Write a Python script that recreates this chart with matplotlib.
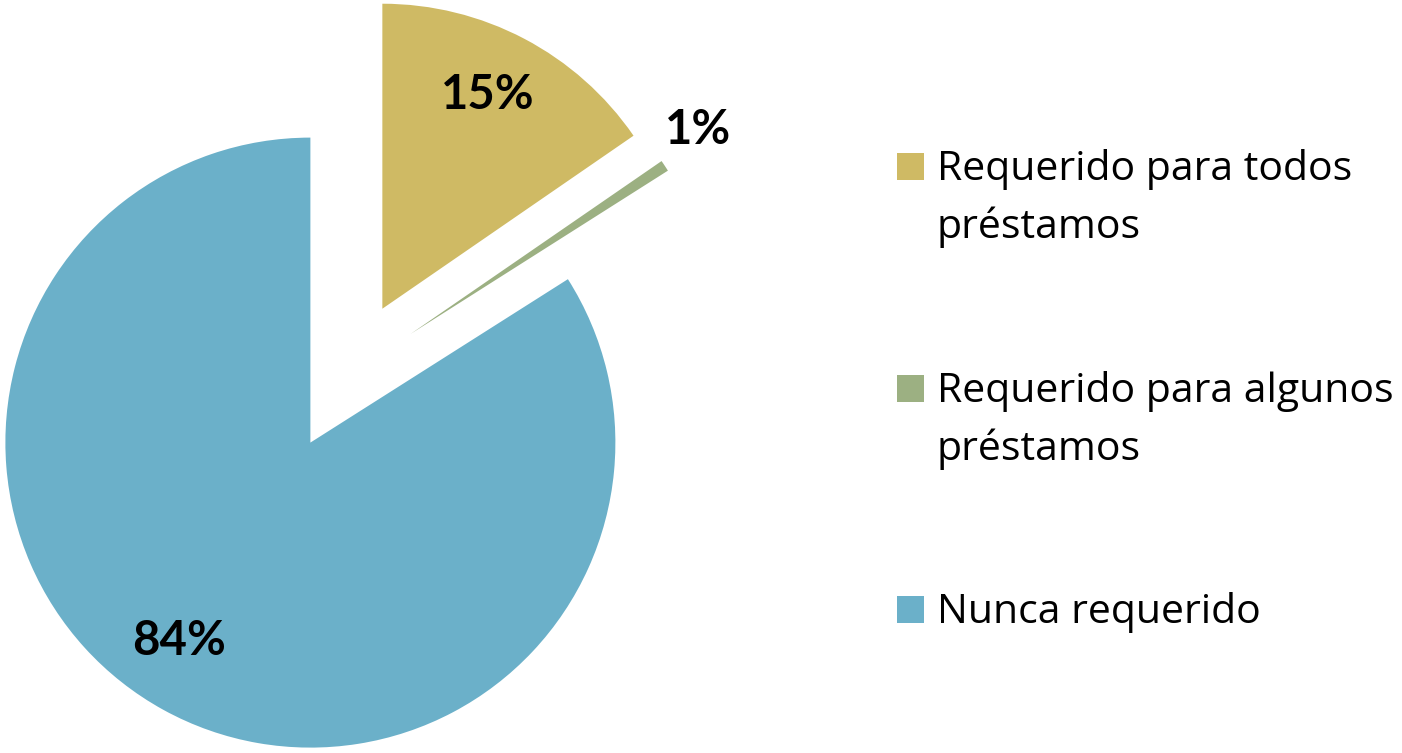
import numpy as np
import matplotlib.pyplot as plt
from matplotlib.patches import Rectangle

# datos del grafico
categorias = ["Requerido para todos\npréstamos",
              "Requerido para algunos\npréstamos",
              "Nunca requerido"]
valores = [15.4, 0.6, 84.0]
colores = ["#CFBA64", "#9CB082", "#6BB0C9"]

plt.rcParams['font.family'] = ['Lato', 'DejaVu Sans']

fig = plt.figure(figsize=(14.02, 7.53), dpi=100)
ax = fig.add_axes([0, 0, 1, 1])

# todo en pixeles: centro y radio de la torta
centro = (347, 377)
radio = 305
separacion = 76

wedges, textos = ax.pie(valores, colors=colores, startangle=90, counterclock=False,
                        radius=radio, center=centro, explode=[separacion] * 3,
                        wedgeprops=dict(linewidth=0))

# etiquetas de porcentaje (linea base), distancia relativa al radio y giro en grados
dist_etq = [0.74, 1.13, 0.82]
giro_etq = [0, 0, -3]
for w, v, d, g in zip(wedges, valores, dist_etq, giro_etq):
    ang = np.deg2rad((w.theta1 + w.theta2) / 2 + g)
    ax.text(w.center[0] + d * radio * np.cos(ang), w.center[1] + d * radio * np.sin(ang),
            f"{v:.0f}%", fontsize=34, fontweight='bold', ha='center', va='baseline')

ax.set_xlim(0, 1402)
ax.set_ylim(0, 753)
ax.set_aspect('equal')
ax.axis('off')

# leyenda hecha a mano
y_filas = [180, 402, 623]  # linea base de cada entrada (pixeles desde arriba)
for cat, col, yb in zip(categorias, colores, y_filas):
    ax.add_patch(Rectangle((897, 753 - yb), 27, 27, facecolor=col, edgecolor='none'))
    for i, linea in enumerate(cat.split("\n")):
        ax.text(937, 753 - yb - i * 58, linea, fontsize=29.5, va='baseline', ha='left',
                family=['Open Sans', 'DejaVu Sans'])

fig.savefig("out.png", dpi=100)
